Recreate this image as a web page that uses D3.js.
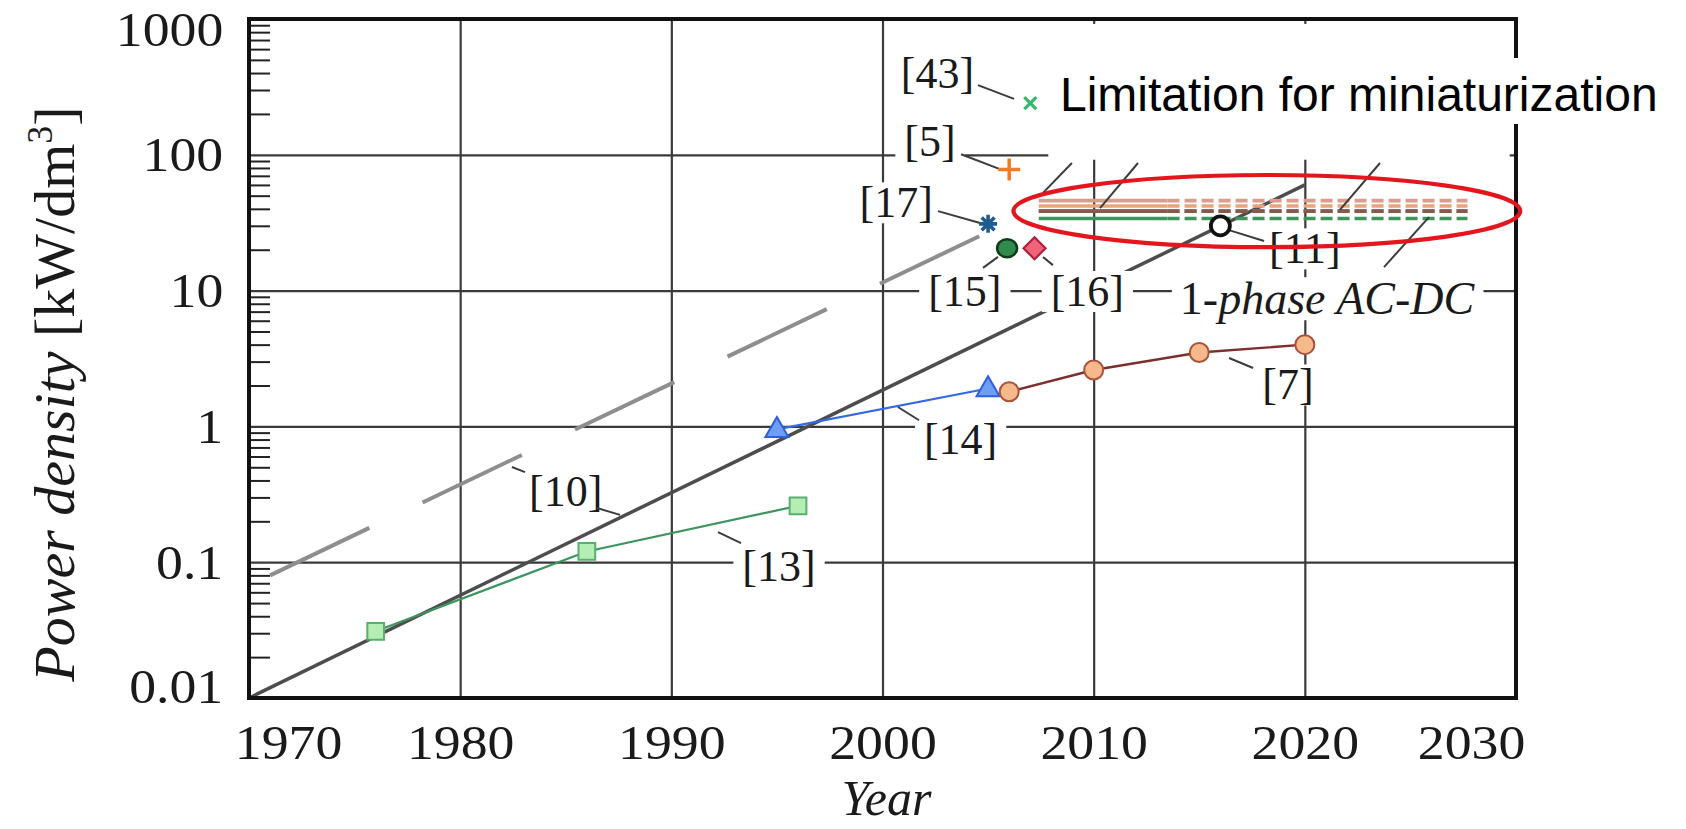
<!DOCTYPE html>
<html>
<head>
<meta charset="utf-8">
<script src="https://cdn.jsdelivr.net/npm/d3@7"></script>
<style>
  body { margin: 0; background: #fff; }
  svg { display: block; }
</style>
</head>
<body>
<svg id="chart" width="1686" height="829"></svg>
<script>
// ---- data ----
const yearTicks = [1970, 1980, 1990, 2000, 2010, 2020, 2030];
const densityTicks = [0.01, 0.1, 1, 10, 100, 1000];
const densityTickLabels = ["0.01", "0.1", "1", "10", "100", "1000"];

// [13] converters
const ref13Years = [1976, 1986, 1996];
const ref13Values = [0.031, 0.12, 0.26];
// [14]
const ref14Years = [1995, 2005];
const ref14Values = [0.95, 1.9];
// [7]
const ref7Years = [2006, 2010, 2015, 2020];
const ref7Values = [1.8, 2.6, 3.5, 4.0];
// [10] trend (solid) and earlier trend (dashed)
const ref10TrendYears = [1970, 2020];
const ref10TrendValues = [0.01, 60];
const ref10EarlyYears = [1971, 2005];
const ref10EarlyValues = [0.08, 27];
// single reported designs
const singleRefs = ["[43]", "[5]", "[17]", "[15]", "[16]", "[11]"];
const singleYears = [2007, 2006, 2005, 2005.9, 2007.2, 2016];
const singleValues = [240, 78, 31, 20.5, 20.5, 30];
// 1-phase AC-DC limits: solid up to the present, dashed projection
const acdcYears = [2007.4, 2013.5, 2027.7];
const acdcValues = [46, 42, 38.5, 38.5, 34];

// ---- styles ----
const acdcColors = ["#d99c8e", "#e9a57a", "#5b86c4", "#8c5848", "#3f9457"];
const serif = "'Liberation Serif', 'Times New Roman', serif";

const svg = d3.select("#chart");
svg.append("rect").attr("width", 1686).attr("height", 829).attr("fill", "#fff");

const x = d3.scaleLinear().domain([1970, 2030]).range([249, 1516]);
const y = d3.scaleLog().domain([0.01, 1000]).range([698, 19]);
const [x0, x1] = x.range();
const [y0, y1] = y.range();

// ---- grid ----
const grid = svg.append("g");
grid.append("g")
  .attr("transform", `translate(0,${y0})`)
  .call(d3.axisBottom(x).tickValues(yearTicks.slice(1, -1)).tickSize(-(y0 - y1)).tickFormat(""))
  .call(g => g.select(".domain").remove())
  .call(g => g.selectAll("line").attr("stroke", "#3a3a3a").attr("stroke-width", 2.2));
grid.append("g")
  .attr("transform", `translate(${x0},0)`)
  .call(d3.axisLeft(y).tickValues(densityTicks.slice(1, -1)).tickSize(-(x1 - x0)).tickFormat(""))
  .call(g => g.select(".domain").remove())
  .call(g => g.selectAll("line").attr("stroke", "#3a3a3a").attr("stroke-width", 2.2));

// blank area in the upper right of the plot
svg.append("rect")
  .attr("x", x(2007.85)).attr("y", y(920))
  .attr("width", x(2029.7) - x(2007.85)).attr("height", y(92) - y(920))
  .attr("fill", "#fff");

// minor ticks on the left axis
const minorTicks = [];
for (let e = -2; e < 3; e++) for (let k = 2; k <= 9; k++) minorTicks.push(k * Math.pow(10, e));
svg.append("g")
  .attr("transform", `translate(${x0},0)`)
  .call(d3.axisLeft(y).tickValues(minorTicks).tickSize(-21).tickFormat(""))
  .call(g => g.select(".domain").remove())
  .call(g => g.selectAll("line").attr("stroke", "#222").attr("stroke-width", 2));

// ---- trend lines ----
const line = d3.line().x(d => x(d[0])).y(d => y(d[1]));
const zip = (a, b) => a.map((v, i) => [v, b[i]]);

svg.append("path")
  .datum(zip(ref10EarlyYears, ref10EarlyValues))
  .attr("d", line).attr("fill", "none")
  .attr("stroke", "#8e8e8e").attr("stroke-width", 4)
  .attr("stroke-dasharray", "110,59");

svg.append("path")
  .datum(zip(ref10TrendYears, ref10TrendValues))
  .attr("d", line).attr("fill", "none")
  .attr("stroke", "#4d4d4d").attr("stroke-width", 3.5);

// ---- series lines ----
svg.append("path").datum(zip(ref13Years, ref13Values)).attr("d", line)
  .attr("fill", "none").attr("stroke", "#3d9460").attr("stroke-width", 2.2);
svg.append("path").datum(zip(ref14Years, ref14Values)).attr("d", line)
  .attr("fill", "none").attr("stroke", "#3469e6").attr("stroke-width", 2.2);
svg.append("path").datum(zip(ref7Years, ref7Values)).attr("d", line)
  .attr("fill", "none").attr("stroke", "#7d2e2e").attr("stroke-width", 2.4);

// ---- 1-phase AC-DC limit lines ----
const acdc = svg.append("g");
acdcValues.forEach((v, i) => {
  acdc.append("path").datum([[acdcYears[0], v], [acdcYears[1], v]]).attr("d", line)
    .attr("stroke", acdcColors[i]).attr("stroke-width", 3.6).attr("fill", "none");
  acdc.append("path").datum([[acdcYears[1], v], [acdcYears[2], v]]).attr("d", line)
    .attr("stroke", acdcColors[i]).attr("stroke-width", 3.6).attr("fill", "none")
    .attr("stroke-dasharray", "12,5");
});

// ---- reference labels (white boxes cut the lines behind them) ----
const refLabels = [
  { text: "[43]", year: 2002.6, value: 405 },
  { text: "[5]", year: 2002.25, value: 128 },
  { text: "[17]", year: 2000.65, value: 45 },
  { text: "[15]", year: 2003.9, value: 10 },
  { text: "[16]", year: 2009.7, value: 10 },
  { text: "[11]", year: 2020.0, value: 20.6 },
  { text: "[7]", year: 2019.2, value: 2.05 },
  { text: "[14]", year: 2003.7, value: 0.81 },
  { text: "[13]", year: 1995.1, value: 0.095 },
  { text: "[10]", year: 1985.0, value: 0.334 }
];
const labelLayer = svg.append("g");
function addLabel(build, cx, cy, size, padX) {
  const g = labelLayer.append("g");
  const bg = g.append("rect").attr("fill", "#fff");
  const t = g.append("text")
    .attr("x", cx).attr("y", cy).attr("dy", "0.35em")
    .attr("text-anchor", "middle")
    .style("font-family", serif).style("font-size", size + "px").attr("fill", "#1a1a1a");
  build(t);
  const b = t.node().getBBox();
  bg.attr("x", b.x - padX).attr("y", b.y + 4).attr("width", b.width + 2 * padX).attr("height", b.height - 8);
}
refLabels.forEach(d => {
  addLabel(t => t.text(d.text), x(d.year), y(d.value), 44, 9);
});
addLabel(t => {
  t.append("tspan").text("1-");
  t.append("tspan").style("font-style", "italic").text("phase AC-DC");
}, x(2021.05), y(8.8), 46, 8);

// ---- leader lines ----
const leaders = [
  [[2004.52, 326], [2006.23, 258]],
  [[2003.72, 101], [2005.56, 78.5]],
  [[2002.63, 38.5], [2004.62, 31.5]],
  [[2004.76, 14.7], [2005.47, 17.7]],
  [[2007.6, 17.7], [2008.07, 15.4]],
  [[2016.41, 27.9], [2018.07, 23.2]],
  [[2016.41, 3.19], [2017.55, 2.69]],
  [[2000.73, 1.39], [2001.73, 1.11]],
  [[1992.21, 0.1667], [1993.3, 0.138]],
  [[1986.48, 0.2506], [1987.57, 0.223]],
  [[1982.45, 0.502], [1983.07, 0.461]],
  [[2025.88, 34.8], [2023.75, 14.9]],
  [[2008.97, 87], [2007.6, 52.4]],
  [[2012.1, 87], [2010.3, 40.5]],
  [[2023.56, 87], [2021.66, 39.3]]
];
svg.append("g").selectAll("path").data(leaders).join("path")
  .attr("d", line).attr("fill", "none")
  .attr("stroke", "#3c3c3c").attr("stroke-width", 2);

// ---- markers ----
const mk = svg.append("g");
const sym = (type, size) => d3.symbol().type(type).size(size)();
zip(ref13Years, ref13Values).forEach(d => {
  mk.append("path").attr("d", sym(d3.symbolSquare, 280))
    .attr("transform", `translate(${x(d[0])},${y(d[1])})`)
    .attr("fill", "#b4eeb4").attr("stroke", "#5aae6e").attr("stroke-width", 2);
});
zip(ref14Years, ref14Values).forEach(d => {
  mk.append("path").attr("d", sym(d3.symbolTriangle, 230))
    .attr("transform", `translate(${x(d[0])},${y(d[1]) + 1})`)
    .attr("fill", "#6e9ff3").attr("stroke", "#2d5fe0").attr("stroke-width", 2);
});
zip(ref7Years, ref7Values).forEach(d => {
  mk.append("circle").attr("cx", x(d[0])).attr("cy", y(d[1])).attr("r", 9.5)
    .attr("fill", "#f6b98c").attr("stroke", "#a9533a").attr("stroke-width", 2);
});

const sx = i => x(singleYears[i]), sy = i => y(singleValues[i]);
// [43] cross
mk.append("path").attr("d", "M-6,-6L6,6M-6,6L6,-6")
  .attr("transform", `translate(${sx(0)},${sy(0)})`)
  .attr("stroke", "#3db56f").attr("stroke-width", 3.2).attr("fill", "none");
// [5] plus
mk.append("path").attr("d", "M-11,0H11M0,-11V11")
  .attr("transform", `translate(${sx(1)},${sy(1)})`)
  .attr("stroke", "#f07a26").attr("stroke-width", 3.5).attr("fill", "none");
// [17] asterisk
mk.append("path").attr("d", "M-9,0H9M0,-9V9M-6.4,-6.4L6.4,6.4M-6.4,6.4L6.4,-6.4")
  .attr("transform", `translate(${sx(2)},${sy(2)})`)
  .attr("stroke", "#1f5b8c").attr("stroke-width", 3.6).attr("fill", "none");
// [15] filled circle
mk.append("ellipse").attr("cx", sx(3)).attr("cy", sy(3)).attr("rx", 10).attr("ry", 9)
  .attr("fill", "#2f8a4b").attr("stroke", "#0f3b1c").attr("stroke-width", 2.5);
// [16] diamond
mk.append("path").attr("d", "M0,-11L11,0L0,11L-11,0Z")
  .attr("transform", `translate(${sx(4)},${sy(4)})`)
  .attr("fill", "#ef6479").attr("stroke", "#b01f3d").attr("stroke-width", 2.2);
// [11] open circle
mk.append("circle").attr("cx", sx(5)).attr("cy", sy(5)).attr("r", 9.5)
  .attr("fill", "#fff").attr("stroke", "#111").attr("stroke-width", 3.8);

// ---- frame ----
svg.append("rect")
  .attr("x", x0).attr("y", y1).attr("width", x1 - x0).attr("height", y0 - y1)
  .attr("fill", "none").attr("stroke", "#111").attr("stroke-width", 4);

// highlight ellipse around the AC-DC limits
const ex0 = x(2006.2), ex1 = x(2030.2), ey0 = y(71), ey1 = y(20.9);
svg.append("ellipse")
  .attr("cx", (ex0 + ex1) / 2).attr("cy", (ey0 + ey1) / 2)
  .attr("rx", (ex1 - ex0) / 2).attr("ry", (ey1 - ey0) / 2)
  .attr("fill", "none").attr("stroke", "#e3161e").attr("stroke-width", 4.2);

// ---- callout text ----
svg.append("rect").attr("x", 1052).attr("y", 58).attr("width", 634).attr("height", 66).attr("fill", "#fff");
svg.append("text")
  .attr("x", 1060).attr("y", 111)
  .style("font-family", "'Liberation Sans', Arial, sans-serif").style("font-size", "48px")
  .attr("fill", "#000")
  .text("Limitation for miniaturization");

// ---- axes labels ----
const stretch = 1.12;
const xAxis = svg.append("g")
  .attr("transform", `translate(0,${y0})`)
  .call(d3.axisBottom(x).tickValues(yearTicks).tickSize(0).tickPadding(27).tickFormat(d3.format("d")))
  .call(g => g.select(".domain").remove());
xAxis.selectAll("text")
  .style("font-family", serif).style("font-size", "48px").attr("fill", "#1a1a1a")
  .attr("transform", `scale(${stretch},1)`)
  .attr("dx", d => (d === yearTicks[0] ? 39 : d === yearTicks[yearTicks.length - 1] ? -45 : 0) / stretch);

const yAxis = svg.append("g")
  .attr("transform", `translate(${x0},0)`)
  .call(d3.axisLeft(y).tickValues(densityTicks).tickSize(0).tickPadding(23)
    .tickFormat((d, i) => densityTickLabels[i]))
  .call(g => g.select(".domain").remove());
yAxis.selectAll("text")
  .style("font-family", serif).style("font-size", "48px").attr("fill", "#1a1a1a")
  .attr("transform", `scale(${stretch},1)`)
  .attr("dy", d => d === densityTicks[densityTicks.length - 1] ? "0.55em" : d === densityTicks[0] ? "0.1em" : "0.33em");

svg.append("text")
  .attr("x", x(2000) + 4).attr("y", 815)
  .attr("text-anchor", "middle")
  .style("font-family", serif).style("font-size", "50px").style("font-style", "italic")
  .attr("fill", "#1a1a1a")
  .text("Year");

const yTitle = svg.append("text")
  .attr("transform", `translate(74,394) rotate(-90)`)
  .attr("text-anchor", "middle")
  .style("font-family", serif).style("font-size", "58px").attr("fill", "#1a1a1a");
yTitle.append("tspan").style("font-style", "italic").text("Power density ");
yTitle.append("tspan").text("[kW/dm");
yTitle.append("tspan").attr("dy", -22).style("font-size", "36px").text("3");
yTitle.append("tspan").attr("dy", 22).text("]");
</script>
</body>
</html>
